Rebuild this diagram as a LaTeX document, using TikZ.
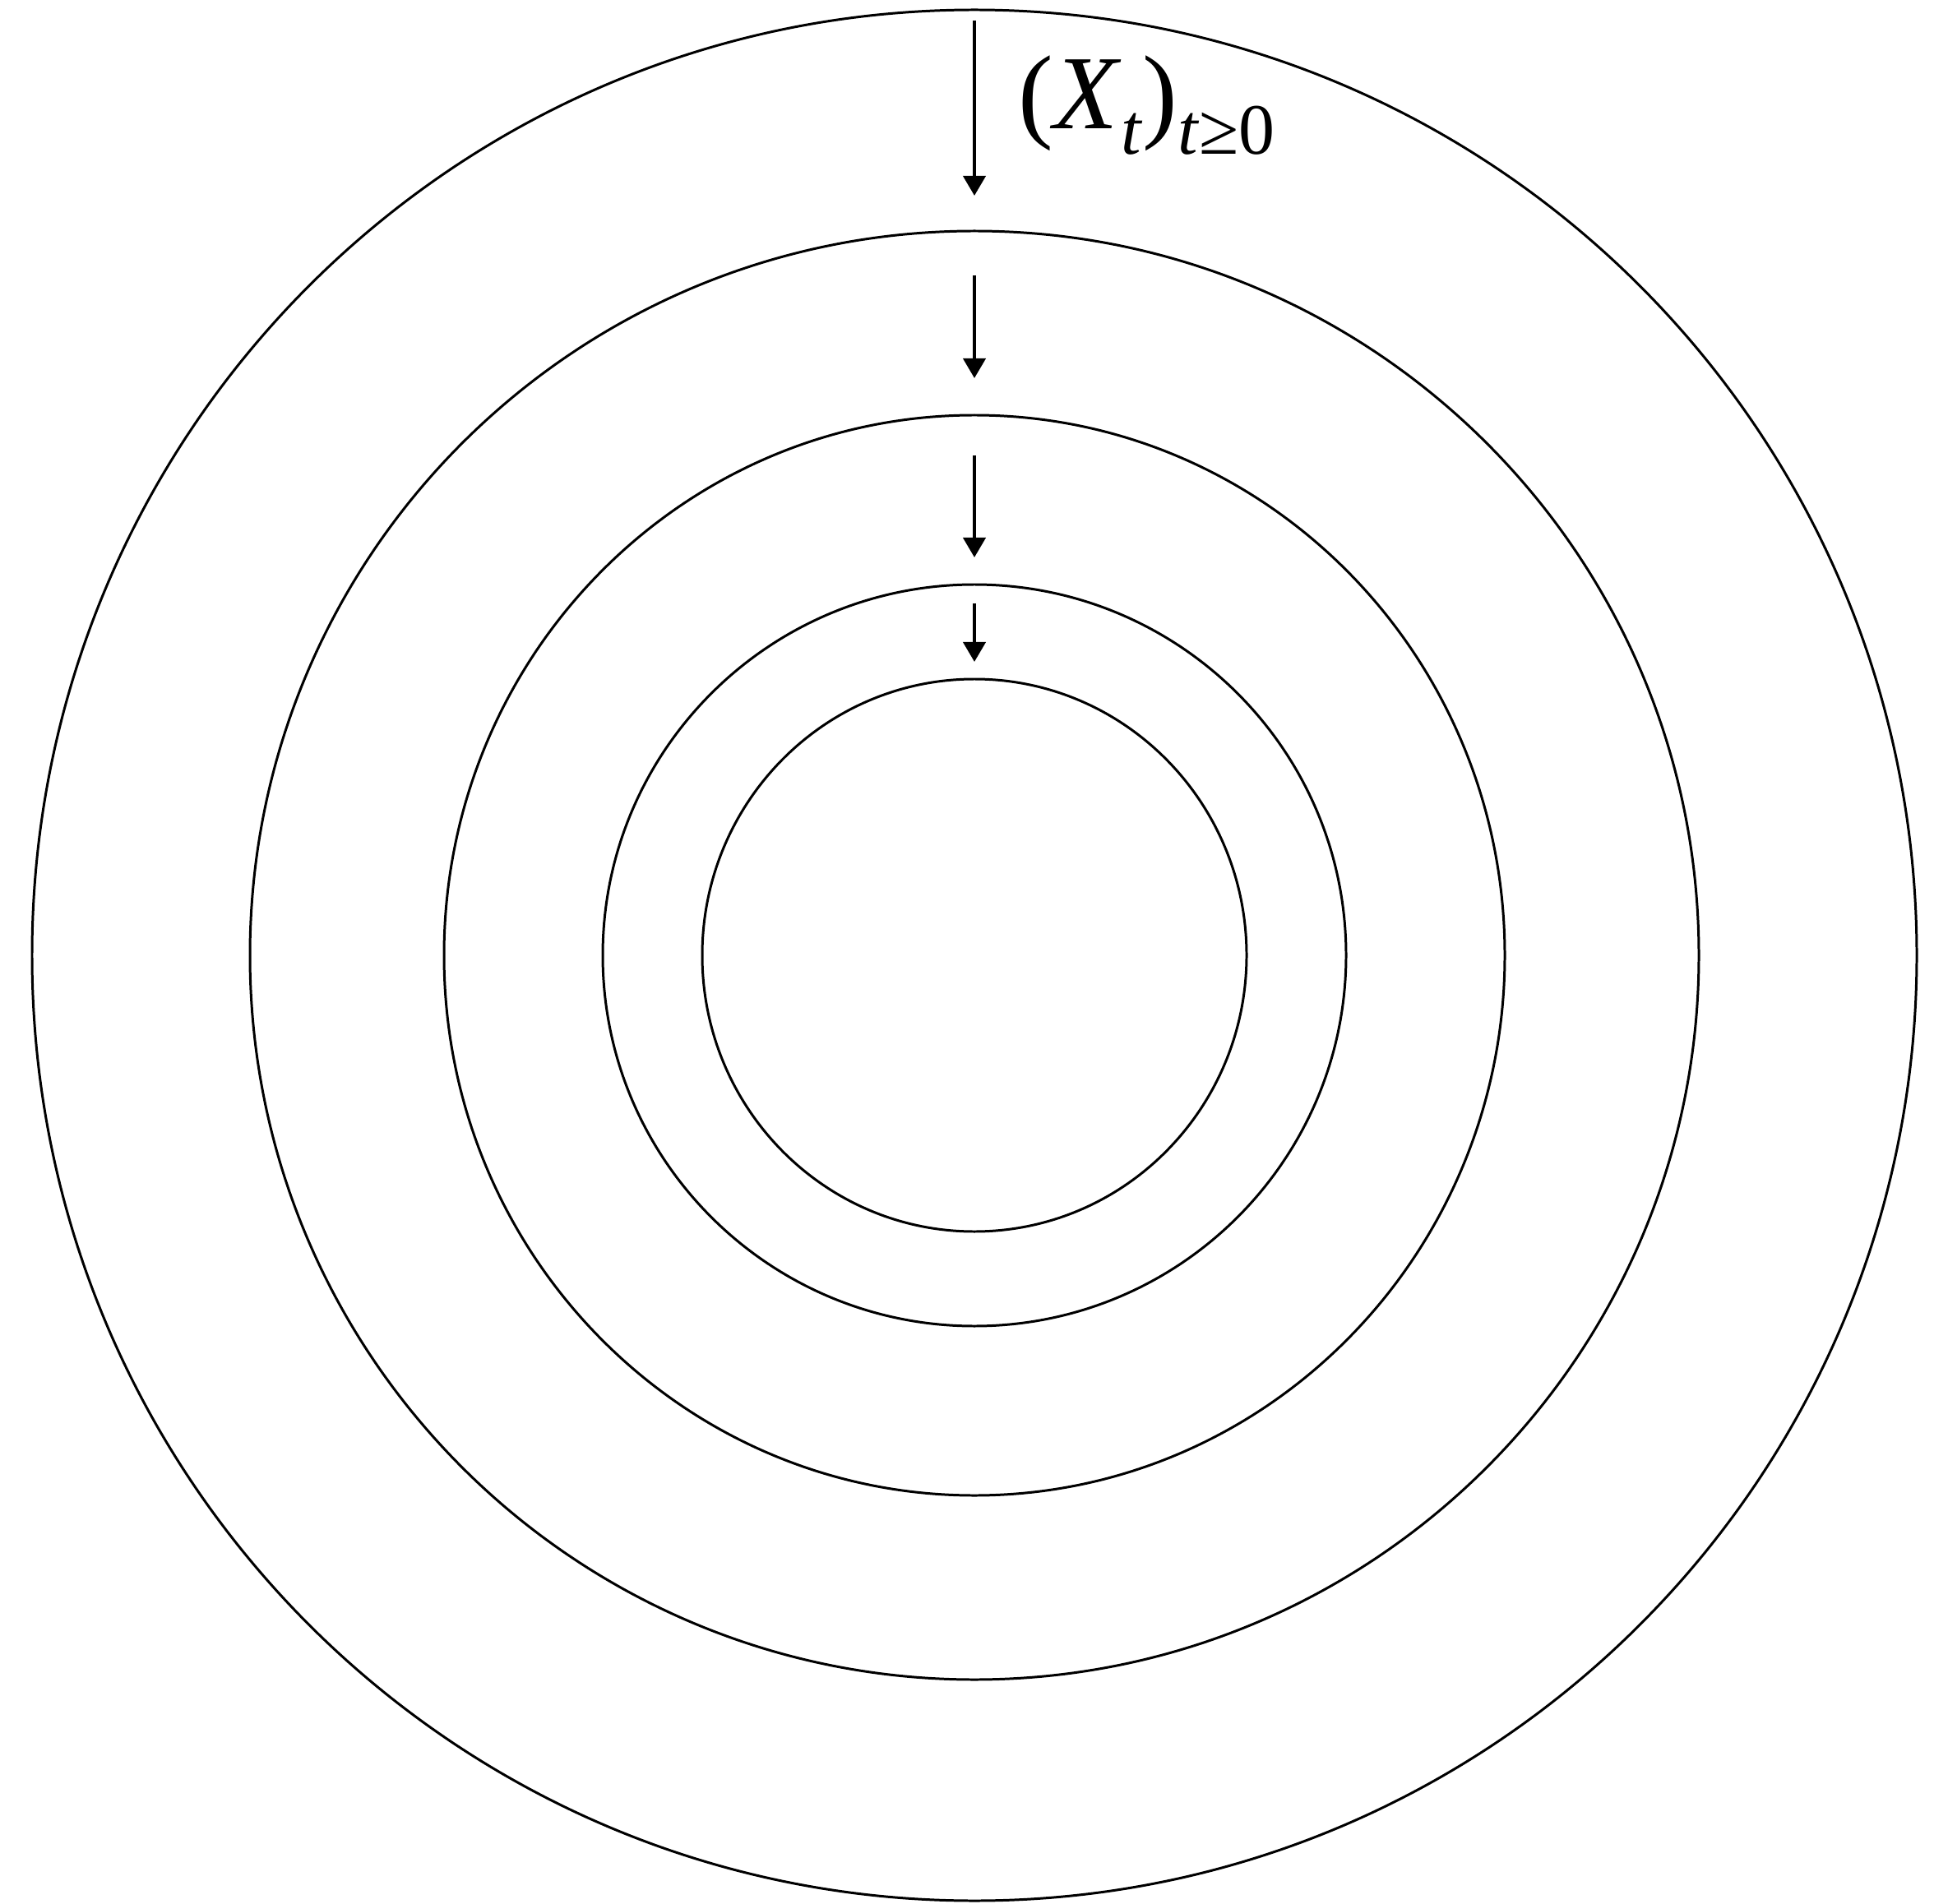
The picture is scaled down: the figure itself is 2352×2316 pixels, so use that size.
\documentclass[tikz,border=0pt]{standalone}
\usepackage{fontspec}
\setmainfont{Liberation Serif}
\usetikzlibrary{arrows.meta}
\newcommand{\lowsub}[1]{\raisebox{-0.24em}{\fontsize{25}{25}\selectfont #1}}

\begin{document}
\begin{tikzpicture}[x=0.01cm, y=-0.01cm, line join=round,
    ring/.style={line width=0.85pt},
    flow/.style={line width=1.15pt, -{Triangle[width=0.27cm,length=0.24cm]}}]
    \useasboundingbox (0,0) rectangle (2352,2316);

    % Common centre of the rings
    \coordinate (O) at (1185,1162);

    % Nested rings
    \draw[ring] (O) ellipse [x radius=1146, y radius=1150];
    \draw[ring] (O) ellipse [x radius=881, y radius=881];
    \draw[ring] (O) ellipse [x radius=645, y radius=657];
    \draw[ring] (O) ellipse [x radius=452, y radius=451];
    \draw[ring] (O) ellipse [x radius=331, y radius=336];

    % Arrow ends
    \coordinate (s1) at (1185,25);  \coordinate (e1) at (1185,238);
    \coordinate (s2) at (1185,335); \coordinate (e2) at (1185,460);
    \coordinate (s3) at (1185,554); \coordinate (e3) at (1185,678);
    \coordinate (s4) at (1185,734); \coordinate (e4) at (1185,805);

    % Arrows pointing inwards
    \draw[flow] (s1) -- (e1);
    \draw[flow] (s2) -- (e2);
    \draw[flow] (s3) -- (e3);
    \draw[flow] (s4) -- (e4);

    % Label of the process
    \node[anchor=base west, inner sep=0pt, font=\fontsize{36.4}{40}\selectfont] (lbl) at (1238,157)
        {(\textit{X}\lowsub{\textit{t}})\lowsub{\textit{t}≥0}};
\end{tikzpicture}
\end{document}
